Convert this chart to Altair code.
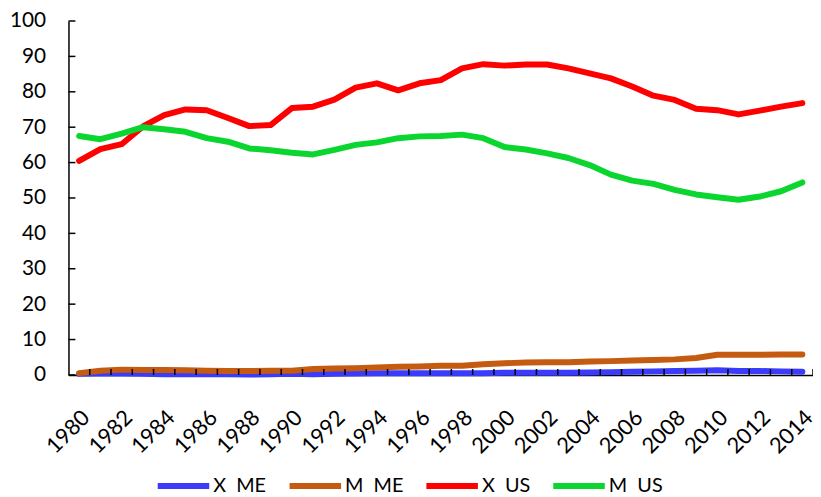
import altair as alt
import pandas as pd

years = list(range(1980, 2015))
x_me = [0.3, 0.4, 0.4, 0.3, 0.2, 0.2, 0.2, 0.2, 0.1, 0.2, 0.3, 0.2, 0.3, 0.4, 0.5, 0.5, 0.5, 0.5,
        0.5, 0.5, 0.6, 0.6, 0.6, 0.6, 0.7, 0.8, 0.9, 1.0, 1.1, 1.2, 1.3, 1.1, 1.1, 1.0, 0.9]
m_me = [0.5, 1.2, 1.5, 1.4, 1.4, 1.3, 1.2, 1.1, 1.1, 1.2, 1.2, 1.7, 1.8, 1.9, 2.1, 2.3, 2.4, 2.6,
        2.6, 3.0, 3.3, 3.5, 3.6, 3.6, 3.8, 3.9, 4.1, 4.2, 4.4, 4.8, 5.7, 5.7, 5.7, 5.8, 5.8]
x_us = [60.5, 63.8, 65.2, 70.2, 73.4, 75.0, 74.8, 72.6, 70.3, 70.6, 75.4, 75.8, 77.8, 81.2, 82.4,
        80.4, 82.4, 83.3, 86.6, 87.8, 87.4, 87.7, 87.7, 86.6, 85.2, 83.8, 81.5, 78.9, 77.7, 75.2,
        74.8, 73.6, 74.7, 75.8, 76.8]
m_us = [67.5, 66.6, 68.2, 70.0, 69.4, 68.7, 66.9, 65.9, 64.0, 63.5, 62.8, 62.3, 63.6, 65.0, 65.7,
        66.9, 67.4, 67.5, 67.9, 66.9, 64.4, 63.7, 62.6, 61.3, 59.3, 56.6, 54.9, 54.0, 52.3, 51.0,
        50.2, 49.5, 50.4, 51.9, 54.4]
series_names = ["X\u00a0 ME", "M\u00a0 ME", "X\u00a0 US", "M\u00a0 US"]
series_colors = ["#3b3bfb", "#c55a11", "#ff0000", "#0bd630"]
y_ticks = list(range(0, 101, 10))

rows = []
for name, vals in zip(series_names, [x_me, m_me, x_us, m_us]):
    for yr, v in zip(years, vals):
        rows.append({"year": yr, "value": v, "series": name, "order": series_names.index(name)})
df = pd.DataFrame(rows)

FONT = "Lato"
xscale = alt.Scale(type="band", paddingInner=0, paddingOuter=0)
yscale = alt.Scale(domain=[0, 100], nice=False)

xaxis = alt.Axis(title=None, ticks=False, labelAngle=-45, labelFont=FONT, labelFontSize=22,
                 labelColor="black", labelPadding=32, domainColor="black", domainWidth=1.5,
                 labelExpr="datum.value % 2 == 0 ? datum.label : ''", labelOverlap=False)
yaxis = alt.Axis(title=None, values=y_ticks, ticks=False, grid=False, labelFont=FONT,
                 labelFontSize=21, labelColor="black", labelPadding=23, domainColor="black",
                 domainWidth=1.5, labelOverlap=False)

lines = alt.Chart(df).mark_line(strokeWidth=6, strokeCap="round", strokeJoin="round").encode(
    x=alt.X("year:O", bandPosition=0.5, scale=xscale, axis=xaxis),
    y=alt.Y("value:Q", scale=yscale, axis=yaxis),
    color=alt.Color("series:N", sort=series_names,
                    scale=alt.Scale(domain=series_names, range=series_colors),
                    legend=alt.Legend(title=None, orient="none", direction="horizontal", columns=4,
                                      legendX=87, legendY=440, symbolType="stroke",
                                      symbolSize=2700, symbolStrokeWidth=6, labelFont=FONT,
                                      labelFontSize=20, labelColor="black", labelOffset=1,
                                      columnPadding=11, padding=0)),
    order=alt.Order("order:Q"),
)

ytick_df = pd.DataFrame({"value": y_ticks})
yticks = alt.Chart(ytick_df).mark_rule(color="black", strokeWidth=1.5).encode(
    y=alt.Y("value:Q", scale=yscale, axis=yaxis), x=alt.value(0), x2=alt.value(7)
)

xtick_df = pd.DataFrame({"year": years})
xticks = alt.Chart(xtick_df).mark_rule(color="black", strokeWidth=1.5).encode(
    x=alt.X("year:O", bandPosition=1, scale=xscale, axis=xaxis), y=alt.value(357), y2=alt.value(351)
)

chart = alt.layer(lines, yticks, xticks).properties(
    width=751, height=357,
    autosize=alt.AutoSizeParams(type="none"),
    padding={"left": 61, "top": 11, "right": 0, "bottom": 121},
).configure_view(stroke=None)

chart.save("out.html", embed_options={"renderer": "svg", "actions": False})
